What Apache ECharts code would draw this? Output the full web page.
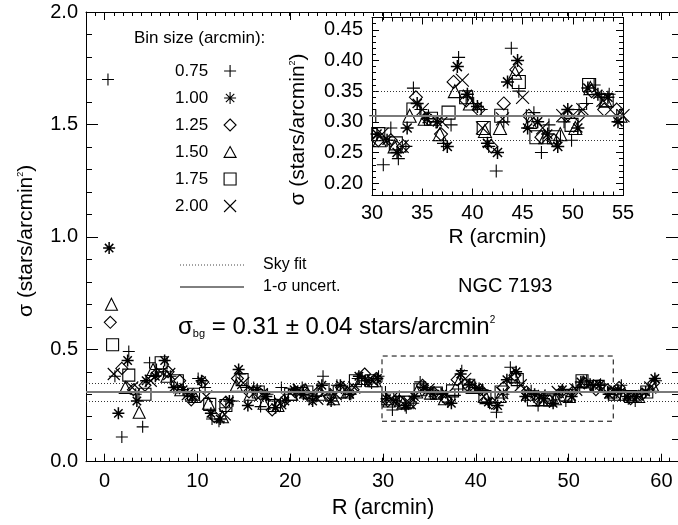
<!DOCTYPE html>
<html>
<head>
<meta charset="utf-8">
<script src="https://cdn.jsdelivr.net/npm/echarts@6/dist/echarts.min.js"></script>
<style>
  html, body { margin: 0; padding: 0; background: #fff; }
  #main { width: 678px; height: 525px; }
</style>
</head>
<body>
<div id="main"></div>
<script>
// bin sizes (arcmin) and the density profile read for each bin size
const binNames = ['0.75', '1.00', '1.25', '1.50', '1.75', '2.00'];
const binWidths = [0.75, 1.00, 1.25, 1.50, 1.75, 2.00];

const sigma075 = [1.70, 0.38, 0.11, 0.49, 0.30, 0.155, 0.44, 0.41, 0.40, 0.38,
  0.33, 0.31, 0.29, 0.37, 0.33, 0.19, 0.18, 0.24, 0.27, 0.39,
  0.33, 0.33, 0.245, 0.30, 0.27, 0.33, 0.30, 0.31, 0.33, 0.28,
  0.29, 0.38, 0.30, 0.34, 0.31, 0.30, 0.37, 0.36, 0.35, 0.38,
  0.31, 0.23, 0.29, 0.24, 0.26, 0.355, 0.32, 0.31, 0.30, 0.265,
  0.295, 0.405, 0.34, 0.33, 0.32, 0.26, 0.22, 0.30, 0.42, 0.35,
  0.31, 0.315, 0.25, 0.295, 0.27, 0.30, 0.27, 0.32, 0.33, 0.36,
  0.34, 0.345, 0.31, 0.30, 0.34, 0.28, 0.27, 0.30, 0.32, 0.36];
const sigma100 = [0.95, 0.215, 0.45, 0.27, 0.36, 0.38, 0.45, 0.33, 0.32, 0.29,
  0.36, 0.215, 0.19, 0.27, 0.41, 0.25, 0.32, 0.29, 0.24, 0.27,
  0.32, 0.30, 0.27, 0.34, 0.27, 0.34, 0.30, 0.38, 0.36, 0.37,
  0.28, 0.27, 0.25, 0.29, 0.33, 0.305, 0.30, 0.26, 0.39, 0.345,
  0.325, 0.265, 0.25, 0.365, 0.40, 0.29, 0.30, 0.28, 0.26, 0.32,
  0.29, 0.355, 0.345, 0.34, 0.30, 0.32, 0.29, 0.29, 0.31, 0.37];
const sigma125 = [0.62, 0.415, 0.32, 0.34, 0.39, 0.40, 0.36, 0.275, 0.355, 0.20,
  0.265, 0.37, 0.31, 0.30, 0.23, 0.27, 0.31, 0.30, 0.31, 0.29,
  0.33, 0.32, 0.39, 0.37, 0.27, 0.27, 0.26, 0.34, 0.305, 0.28,
  0.365, 0.335, 0.32, 0.26, 0.33, 0.385, 0.31, 0.275, 0.27, 0.31,
  0.31, 0.35, 0.32, 0.32, 0.33, 0.28, 0.30, 0.35];
const sigma150 = [0.70, 0.33, 0.22, 0.41, 0.38, 0.32, 0.29, 0.26, 0.20, 0.34,
  0.30, 0.26, 0.25, 0.30, 0.32, 0.30, 0.28, 0.31, 0.37, 0.36,
  0.27, 0.26, 0.31, 0.305, 0.28, 0.35, 0.33, 0.285, 0.29, 0.38,
  0.30, 0.275, 0.28, 0.29, 0.355, 0.335, 0.31, 0.30, 0.29, 0.34];
const sigma175 = [0.52, 0.385, 0.30, 0.44, 0.36, 0.30, 0.255, 0.25, 0.365, 0.31,
  0.25, 0.30, 0.31, 0.32, 0.31, 0.36, 0.36, 0.28, 0.265, 0.32,
  0.305, 0.315, 0.34, 0.29, 0.31, 0.365, 0.275, 0.275, 0.295, 0.36,
  0.335, 0.30, 0.29, 0.31];
const sigma200 = [0.39, 0.33, 0.36, 0.39, 0.30, 0.29, 0.21, 0.35, 0.30, 0.26,
  0.32, 0.28, 0.30, 0.33, 0.36, 0.28, 0.26, 0.32, 0.30, 0.368,
  0.29, 0.305, 0.34, 0.29, 0.31, 0.32, 0.335, 0.31, 0.29, 0.33];
const sigmaSets = [sigma075, sigma100, sigma125, sigma150, sigma175, sigma200];

// sky background fit
const skyFit = 0.31;
const skyUnc = 0.04;

// axis ranges
const mainXRange = [-2, 62];
const mainXLabelRange = [0, 60];
const mainYRange = [0, 2.0];
const insetXRange = [30, 55];
const insetYRange = [0.18, 0.47];
const insetYLabelRange = [0.20, 0.45];

const FONT = "'Liberation Sans', Arial, Helvetica, sans-serif";

const symbols = [
  'path://M0,5H10M5,0V10',
  'path://M0,5H10M5,0V10M1.5,1.5L8.5,8.5M1.5,8.5L8.5,1.5',
  'path://M5,0L10,5L5,10L0,5Z',
  'path://M5,0L10,9L0,9Z',
  'path://M0,0H10V10H0Z',
  'path://M0,0L10,10M0,10L10,0'
];
const strokeW = [1.1, 1.5, 1.1, 1.1, 1.1, 1.1];

function binPoints(width, vals) {
  // each value sits at the centre of its radial bin
  return vals.map((v, i) => [(i + 0.5) * width, v]);
}

// pixel layout
const mainLeft = 86, mainTop = 12, mainW = 594, mainH = 449.7;
const pxPerR = mainW / (mainXRange[1] - mainXRange[0]);
const insetLeft = 372, insetTop = 17.5, insetW = 251, insetH = 178;
const pxPerS = insetH / (insetYRange[1] - insetYRange[0]);

const chart = echarts.init(document.getElementById('main'));

function refLines(width) {
  return {
    silent: true,
    symbol: ['none', 'none'],
    label: { show: false },
    animation: false,
    data: [
      { yAxis: skyFit, lineStyle: { color: '#7a7a7a', width: width, type: 'solid' } },
      { yAxis: skyFit + skyUnc, lineStyle: { color: '#333', width: 1, type: [1, 2] } },
      { yAxis: skyFit - skyUnc, lineStyle: { color: '#333', width: 1, type: [1, 2] } }
    ]
  };
}

const series = [];
binNames.forEach((name, k) => {
  const pts = binPoints(binWidths[k], sigmaSets[k]);
  const base = {
    name: name,
    type: 'scatter',
    symbol: symbols[k],
    symbolSize: 12,
    itemStyle: { color: 'rgba(0,0,0,0)', borderColor: '#000', borderWidth: strokeW[k], opacity: 1 },
    emphasis: { disabled: true },
    data: pts,
    z: 3
  };
  const mainS = Object.assign({}, base, { xAxisIndex: 0, yAxisIndex: 0 });
  const insetS = Object.assign({}, base, { xAxisIndex: 4, yAxisIndex: 3, clip: true, symbolSize: 13 });
  if (k === 0) {
    mainS.markLine = refLines(2);
    mainS.markArea = {
      silent: true,
      itemStyle: { color: 'rgba(0,0,0,0)', borderColor: '#000', borderWidth: 1, borderType: [5, 4] },
      data: [[{ xAxis: insetXRange[0], yAxis: insetYRange[0] }, { xAxis: insetXRange[1], yAxis: insetYRange[1] }]]
    };
    insetS.markLine = refLines(2);
  }
  series.push(mainS, insetS);
});

const tickStyle = { color: '#000', width: 1 };
const hideAll = { show: false };
const blackLine = { show: true, onZero: false, lineStyle: { color: '#000', width: 1 } };
const noLine = { show: false, onZero: false };

const option = {
  animation: false,
  backgroundColor: '#fff',
  textStyle: { fontFamily: FONT, color: '#000' },
  grid: [
    { left: mainLeft, top: mainTop, width: mainW, height: mainH },
    { left: mainLeft + (mainXLabelRange[0] - mainXRange[0]) * pxPerR, top: mainTop,
      width: (mainXLabelRange[1] - mainXLabelRange[0]) * pxPerR, height: mainH },
    { left: insetLeft, top: insetTop, width: insetW, height: insetH },
    { left: insetLeft, top: insetTop + (insetYRange[1] - insetYLabelRange[1]) * pxPerS, width: insetW,
      height: (insetYLabelRange[1] - insetYLabelRange[0]) * pxPerS }
  ],
  xAxis: [
    { gridIndex: 0, type: 'value', position: 'bottom', min: mainXRange[0], max: mainXRange[1], interval: 1,
      axisLine: blackLine,
      axisTick: { show: true, inside: true, length: 4, lineStyle: tickStyle }, axisLabel: hideAll, splitLine: hideAll },
    { gridIndex: 0, type: 'value', position: 'top', min: mainXRange[0], max: mainXRange[1], interval: 1,
      axisLine: blackLine,
      axisTick: { show: true, inside: true, length: 4, lineStyle: tickStyle }, axisLabel: hideAll, splitLine: hideAll },
    { gridIndex: 1, type: 'value', position: 'bottom', min: mainXLabelRange[0], max: mainXLabelRange[1], interval: 10,
      axisLine: noLine, axisTick: { inside: true, length: 8, lineStyle: tickStyle },
      axisLabel: { fontSize: 20, margin: 10, color: '#000' }, splitLine: hideAll,
      name: 'R (arcmin)', nameLocation: 'middle', nameGap: 35, nameTextStyle: { fontSize: 22, color: '#000' } },
    { gridIndex: 1, type: 'value', position: 'top', min: mainXLabelRange[0], max: mainXLabelRange[1], interval: 10,
      axisLine: noLine, axisTick: { inside: true, length: 8, lineStyle: tickStyle }, axisLabel: hideAll, splitLine: hideAll },
    { gridIndex: 2, type: 'value', position: 'bottom', min: insetXRange[0], max: insetXRange[1], interval: 5,
      axisLine: blackLine,
      axisTick: { inside: true, length: 7, lineStyle: tickStyle },
      minorTick: { show: true, splitNumber: 5, length: 4, lineStyle: tickStyle },
      axisLabel: { fontSize: 20, margin: 8, color: '#000' }, splitLine: hideAll,
      name: 'R (arcmin)', nameLocation: 'middle', nameGap: 31, nameTextStyle: { fontSize: 21, color: '#000' } },
    { gridIndex: 2, type: 'value', position: 'top', min: insetXRange[0], max: insetXRange[1], interval: 5,
      axisLine: blackLine,
      axisTick: { inside: true, length: 7, lineStyle: tickStyle },
      minorTick: { show: true, splitNumber: 5, length: 4, lineStyle: tickStyle },
      axisLabel: hideAll, splitLine: hideAll },
    { gridIndex: 3, type: 'value', show: false, min: insetXRange[0], max: insetXRange[1], axisLine: noLine }
  ],
  yAxis: [
    { gridIndex: 0, type: 'value', position: 'left', min: mainYRange[0], max: mainYRange[1], interval: 0.5,
      axisLine: blackLine,
      axisTick: { inside: true, length: 12, lineStyle: tickStyle },
      minorTick: { show: true, splitNumber: 5, length: 6, lineStyle: tickStyle },
      axisLabel: { fontSize: 20, margin: 8, color: '#000', formatter: v => v.toFixed(1) }, splitLine: hideAll,
      name: '{a|σ (stars/arcmin}{s|2}{a|)}', nameLocation: 'middle', nameGap: 49, nameRotate: 90,
      nameTextStyle: { padding: [0, 8, 0, 0], rich: {
        a: { fontSize: 21, fontFamily: FONT, color: '#000' },
        s: { fontSize: 9, fontFamily: FONT, color: '#000', verticalAlign: 'top' } } } },
    { gridIndex: 0, type: 'value', position: 'right', min: mainYRange[0], max: mainYRange[1], interval: 0.5,
      axisLine: blackLine,
      axisTick: { show: true, inside: true, length: 12, lineStyle: tickStyle },
      minorTick: { show: true, splitNumber: 5, length: 6, lineStyle: tickStyle },
      axisLabel: hideAll, splitLine: hideAll },
    { gridIndex: 1, type: 'value', show: false, min: mainYRange[0], max: mainYRange[1], axisLine: noLine },
    { gridIndex: 2, type: 'value', position: 'left', min: insetYRange[0], max: insetYRange[1], interval: 0.01,
      axisLine: blackLine,
      axisTick: { inside: true, length: 4, lineStyle: tickStyle }, axisLabel: hideAll, splitLine: hideAll },
    { gridIndex: 2, type: 'value', position: 'right', min: insetYRange[0], max: insetYRange[1], interval: 0.01,
      axisLine: blackLine,
      axisTick: { inside: true, length: 4, lineStyle: tickStyle }, axisLabel: hideAll, splitLine: hideAll },
    { gridIndex: 3, type: 'value', position: 'left', min: insetYLabelRange[0], max: insetYLabelRange[1], interval: 0.05,
      axisLine: noLine, axisTick: { inside: true, length: 7, lineStyle: tickStyle },
      axisLabel: { fontSize: 20, margin: 9, color: '#000', formatter: v => v.toFixed(2) }, splitLine: hideAll,
      name: '{a|σ (stars/arcmin}{s|2}{a|)}', nameLocation: 'middle', nameGap: 63, nameRotate: 90,
      nameTextStyle: { padding: [0, 46, 0, 0], rich: {
        a: { fontSize: 21, fontFamily: FONT, color: '#000' },
        s: { fontSize: 9, fontFamily: FONT, color: '#000', verticalAlign: 'top' } } } },
    { gridIndex: 3, type: 'value', position: 'right', min: insetYLabelRange[0], max: insetYLabelRange[1], interval: 0.05,
      axisLine: noLine, axisTick: { inside: true, length: 7, lineStyle: tickStyle }, axisLabel: hideAll, splitLine: hideAll }
  ],
  legend: {
    data: binNames,
    orient: 'vertical',
    left: 170,
    top: 57,
    align: 'right',
    itemWidth: 12,
    itemHeight: 12,
    itemGap: 9,
    selectedMode: false,
    textStyle: { fontSize: 17, fontFamily: FONT, color: '#000', lineHeight: 18, padding: [0, 11, 0, 0] },
    itemStyle: { color: 'rgba(0,0,0,0)', borderColor: '#000', borderWidth: 1.1 }
  },
  graphic: [
    { type: 'text', x: 134, y: 38, style: { text: 'Bin size (arcmin):', fontSize: 17, fontFamily: FONT, fill: '#000', verticalAlign: 'middle' } },
    { type: 'line', shape: { x1: 180, y1: 265, x2: 244, y2: 265 }, style: { stroke: '#444', lineWidth: 1, lineDash: [1, 2] } },
    { type: 'line', shape: { x1: 180, y1: 287, x2: 244, y2: 287 }, style: { stroke: '#000', lineWidth: 1 } },
    { type: 'text', x: 263, y: 265, style: { text: 'Sky fit', fontSize: 16, fontFamily: FONT, fill: '#000', verticalAlign: 'middle' } },
    { type: 'text', x: 263, y: 287, style: { text: '1-σ uncert.', fontSize: 16, fontFamily: FONT, fill: '#000', verticalAlign: 'middle' } },
    { type: 'text', x: 458, y: 286, style: { text: 'NGC 7193', fontSize: 20, fontFamily: FONT, fill: '#000', verticalAlign: 'middle' } },
    { type: 'text', x: 178, y: 327, style: {
        text: '{a|σ}{b|bg}{a| = ' + skyFit.toFixed(2) + ' ± ' + skyUnc.toFixed(2) + ' stars/arcmin}{s|2}',
        verticalAlign: 'middle',
        rich: {
          a: { fontSize: 24, fontFamily: FONT, color: '#000' },
          b: { fontSize: 11, fontFamily: FONT, color: '#000', verticalAlign: 'bottom' },
          s: { fontSize: 10, fontFamily: FONT, color: '#000', verticalAlign: 'top' }
        } } }
  ],
  series: series
};

chart.setOption(option);
</script>
</body>
</html>
